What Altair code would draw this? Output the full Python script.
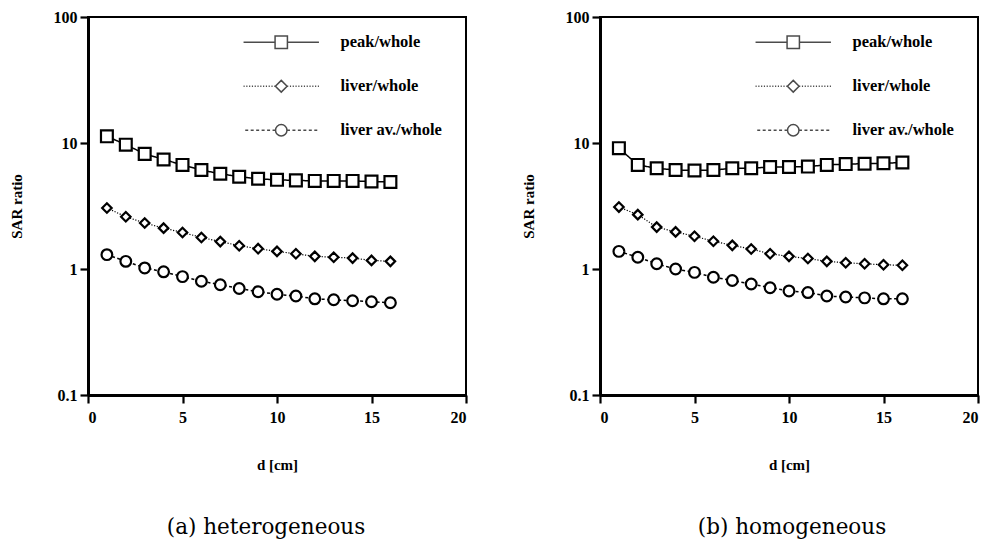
import altair as alt
import pandas as pd

# ---------------- data ----------------
d = list(range(1, 17))
series_names = ["peak/whole", "liver/whole", "liver av./whole"]

het_peak = [11.3, 9.7, 8.2, 7.4, 6.7, 6.1, 5.7, 5.4, 5.2, 5.1, 5.05, 5.0, 5.0, 5.0, 4.95, 4.9]
het_liver = [3.05, 2.6, 2.32, 2.11, 1.95, 1.78, 1.65, 1.53, 1.45, 1.38, 1.32, 1.26, 1.24, 1.22, 1.17, 1.15]
het_liver_av = [1.30, 1.15, 1.02, 0.95, 0.87, 0.80, 0.75, 0.70, 0.66, 0.63, 0.61, 0.58, 0.57, 0.56, 0.55, 0.54]

hom_peak = [9.1, 6.7, 6.3, 6.1, 6.05, 6.1, 6.3, 6.3, 6.45, 6.45, 6.5, 6.7, 6.8, 6.85, 6.9, 7.0]
hom_liver = [3.1, 2.7, 2.15, 1.97, 1.82, 1.66, 1.54, 1.44, 1.32, 1.26, 1.21, 1.15, 1.12, 1.10, 1.08, 1.07]
hom_liver_av = [1.38, 1.24, 1.10, 1.0, 0.94, 0.86, 0.81, 0.76, 0.71, 0.67, 0.65, 0.61, 0.60, 0.59, 0.58, 0.58]

x_ticks = [0, 5, 10, 15, 20]
y_ticks = [0.1, 1, 10, 100]
captions = ["(a) heterogeneous", "(b) homogeneous"]

# ---------------- styling ----------------
FONT = "Liberation Serif"
CAP_FONT = "DejaVu Serif"
marker_shapes = ["square", "diamond", "circle"]
marker_sizes = [140, 90, 115]
line_dashes = [[1, 0], [1.2, 1.6], [3, 2.5]]
line_widths = [1.5, 1.2, 1.5]

# legend symbols: line sample with marker in the middle (custom SVG paths, unit = 6.5px)
LH = 5.8  # half length of the line sample in units


def side_segments(r, dash, gap):
    parts = []
    x = r
    while x < LH - 1e-9:
        e = min(x + dash, LH)
        parts.append(f"M{x:.3f},0H{e:.3f}")
        parts.append(f"M{-e:.3f},0H{-x:.3f}")
        x = e + gap
    return "".join(parts)


sq = 0.95
dm = 0.9
ci = 0.88
legend_paths = [
    f"M{-LH},0H{-sq}M{sq},0H{LH}" + f"M{-sq},{-sq}H{sq}V{sq}H{-sq}Z",
    side_segments(dm, 0.18, 0.25) + f"M0,{-dm}L{dm},0L0,{dm}L{-dm},0Z",
    side_segments(ci, 0.46, 0.38) + f"M{-ci},0A{ci},{ci} 0 1,1 {ci},0A{ci},{ci} 0 1,1 {-ci},0Z",
]

W, H = 378, 378


def make_panel(values, caption, cap_dx):
    frames = []
    for name, vals in zip(series_names, values):
        frames.append(pd.DataFrame({"d": d, "ratio": vals, "series": name}))
    df = pd.concat(frames, ignore_index=True)

    x_enc = alt.X(
        "d:Q",
        scale=alt.Scale(domain=[0, 20], nice=False, zero=False),
        axis=alt.Axis(
            values=x_ticks, format="d", title="d [cm]", grid=False,
            tickSize=8, tickWidth=2.2, domainWidth=3, labelPadding=6,
            titleY=69, titleBaseline="middle",
        ),
    )
    y_enc = alt.Y(
        "ratio:Q",
        scale=alt.Scale(type="log", domain=[0.1, 100], nice=False),
        axis=alt.Axis(
            values=y_ticks, format="~g", title="SAR ratio", grid=False,
            tickSize=8, tickWidth=2.2, domainWidth=3, labelPadding=3,
            titleX=-72, titleY=H / 2, titleBaseline="middle",
        ),
    )

    layers = []
    for i, name in enumerate(series_names):
        sub = alt.Chart(df).transform_filter(alt.datum.series == name)
        layers.append(
            sub.mark_line(color="black", strokeWidth=line_widths[i], strokeDash=line_dashes[i])
            .encode(x=x_enc, y=y_enc)
        )
    for i, name in enumerate(series_names):
        sub = alt.Chart(df).transform_filter(alt.datum.series == name)
        layers.append(
            sub.mark_point(
                shape=marker_shapes[i], size=marker_sizes[i], filled=True,
                fill="white", stroke="black", strokeWidth=2.2, opacity=1,
            ).encode(x=x_enc, y=y_enc)
        )

    legend_layer = (
        alt.Chart(df)
        .transform_filter("false")
        .mark_point(filled=False, color="black")
        .encode(
            shape=alt.Shape(
                "series:N",
                scale=alt.Scale(domain=series_names, range=legend_paths),
                legend=alt.Legend(
                    title=None, orient="none", legendX=185, legendY=17,
                    padding=0, symbolSize=169, symbolStrokeWidth=1.5,
                    symbolStrokeColor="black", symbolFillColor="white",
                    labelOffset=51, rowPadding=25, labelFont=FONT,
                    labelFontSize=16.5, labelFontWeight="bold", labelColor="black",
                    labelLimit=300,
                ),
            )
        )
    )
    layers.append(legend_layer)

    return alt.layer(*layers).properties(
        width=W, height=H,
        title=alt.TitleParams(
            text=caption, orient="bottom", anchor="middle", frame="group",
            offset=45, dx=cap_dx, fontSize=21.5, font=CAP_FONT, fontWeight="normal",
            color="black",
        ),
    )


panel_a = make_panel([het_peak, het_liver, het_liver_av], captions[0], -11)
panel_b = make_panel([hom_peak, hom_liver, hom_liver_av], captions[1], 3)

chart = (
    alt.hconcat(panel_a, panel_b, spacing=51)
    .resolve_scale(shape="independent")
    .resolve_legend(shape="independent")
    .properties(padding=0)
    .configure_view(stroke="black", strokeWidth=2)
    .configure_axis(
        labelFont=FONT, titleFont=FONT, labelFontSize=16, titleFontSize=15,
        labelFontWeight="bold", titleFontWeight="bold",
        labelColor="black", titleColor="black", domainColor="black", tickColor="black",
    )
)

chart.save("out.html", embed_options={"renderer": "svg", "actions": False})
